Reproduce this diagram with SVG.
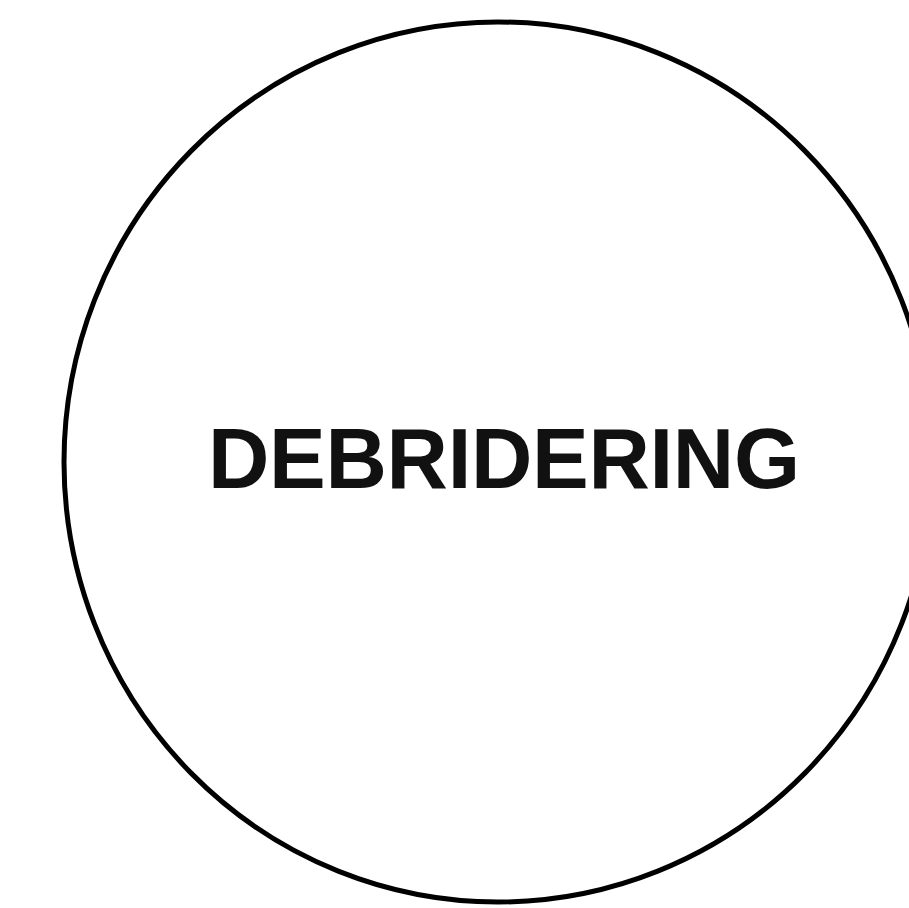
<svg xmlns="http://www.w3.org/2000/svg" width="909" height="908" viewBox="0 0 909 908">
<style>
.shape{fill:none;stroke:#000;stroke-width:5}
.label{font-family:"Liberation Sans",Arial,sans-serif;font-weight:bold;font-size:85px;fill:#111}
</style>
<rect width="909" height="908" fill="#fff"/>
<g id="debridering">
<ellipse class="shape" cx="498" cy="462" rx="434" ry="440"/>
<text class="label" x="208" y="488" textLength="592" lengthAdjust="spacing">DEBRIDERING</text>
</g>
<g id="connectors"/>
</svg>
